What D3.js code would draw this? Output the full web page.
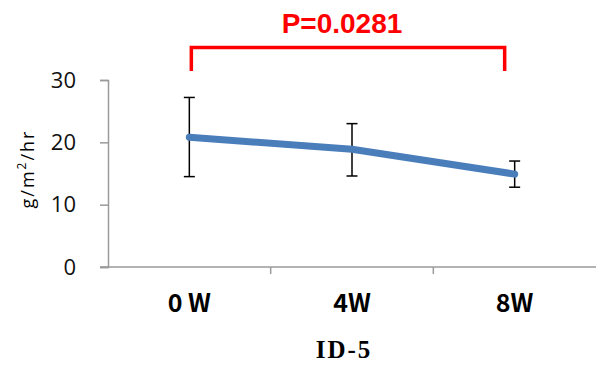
<!DOCTYPE html>
<html>
<head>
<meta charset="utf-8">
<script src="https://cdn.jsdelivr.net/npm/d3@7"></script>
<style>
  body { margin: 0; background: #fff; }
</style>
</head>
<body>
<script>
var categories = ["0W", "4W", "8W"];
var categoryLabels = ["0 W", "4W", "8W"];
var means = [20.8, 18.9, 14.9];
var errUpper = [27.2, 23.0, 17.0];
var errLower = [14.5, 14.6, 12.8];
var yTicks = [0, 10, 20, 30];
var pLabel = "P=0.0281";
var title = "ID-5";

var width = 596,
    height = 366;

var svg = d3.select("body")
    .append("svg")
    .attr("width", width)
    .attr("height", height);

var x = d3.scaleBand()
    .domain(categories)
    .range([108, 596]);

var y = d3.scaleLinear()
    .domain([0, 30])
    .range([267, 80]);

var axisColor = "#9a9a9a";

// y axis
var yAxis = svg.append("g")
    .attr("transform", "translate(108,0)")
    .call(d3.axisLeft(y).tickValues(yTicks).tickSize(8).tickPadding(24));
yAxis.select(".domain").attr("stroke", axisColor).attr("stroke-width", 1.5);
yAxis.selectAll(".tick line").attr("stroke", axisColor).attr("stroke-width", 1.5);
yAxis.selectAll(".tick text")
    .attr("fill", "#111")
    .style("font-family", "'Open Sans', sans-serif")
    .style("font-size", "22px");

// x axis line and ticks at band edges
svg.append("line")
    .attr("x1", 100).attr("x2", 596)
    .attr("y1", y(0)).attr("y2", y(0))
    .attr("stroke", axisColor).attr("stroke-width", 1.5);
svg.selectAll(".xtick")
    .data(categories.slice(1))
    .enter().append("line")
    .attr("x1", function (d) { return x(d); })
    .attr("x2", function (d) { return x(d); })
    .attr("y1", y(0))
    .attr("y2", y(0) + 7)
    .attr("stroke", axisColor).attr("stroke-width", 1.5);

// category labels
svg.selectAll(".xlabel")
    .data(categories)
    .enter().append("text")
    .attr("x", function (d) { return x(d) + x.bandwidth() / 2; })
    .attr("y", 312)
    .attr("text-anchor", "middle")
    .style("font-family", "'Noto Sans CJK JP', sans-serif")
    .style("font-weight", "700")
    .style("font-size", "25px")
    .text(function (d, i) { return categoryLabels[i]; });

// y axis label
svg.append("text")
    .attr("transform", "translate(34,169) rotate(-90)")
    .attr("text-anchor", "middle")
    .style("font-family", "'Open Sans', sans-serif")
    .style("font-size", "18px")
    .style("letter-spacing", "2px")
    .html("g/m<tspan baseline-shift='super' font-size='12px'>2</tspan>/hr");

// title
svg.append("text")
    .attr("x", 344)
    .attr("y", 358)
    .attr("text-anchor", "middle")
    .style("font-family", "'Liberation Serif', serif")
    .style("font-weight", "700")
    .style("font-size", "25px")
    .style("letter-spacing", "2px")
    .text(title);

// error bars
var cx = function (i) { return x(categories[i]) + x.bandwidth() / 2; };
var eb = svg.append("g").attr("stroke", "#000").attr("stroke-width", 1.5);
means.forEach(function (m, i) {
    eb.append("line")
        .attr("x1", cx(i)).attr("x2", cx(i))
        .attr("y1", y(errUpper[i])).attr("y2", y(errLower[i]));
    eb.append("line")
        .attr("x1", cx(i) - 5.5).attr("x2", cx(i) + 5.5)
        .attr("y1", y(errUpper[i])).attr("y2", y(errUpper[i]));
    eb.append("line")
        .attr("x1", cx(i) - 5.5).attr("x2", cx(i) + 5.5)
        .attr("y1", y(errLower[i])).attr("y2", y(errLower[i]));
});

// mean line
var line = d3.line()
    .x(function (d, i) { return cx(i); })
    .y(function (d) { return y(d); });
svg.append("path")
    .datum(means)
    .attr("d", line)
    .attr("fill", "none")
    .attr("stroke", "#4a7ebb")
    .attr("stroke-width", 7)
    .attr("stroke-linecap", "round")
    .attr("stroke-linejoin", "round");

// significance bracket
var bx1 = cx(0) + 2, bx2 = cx(2) - 10;
svg.append("path")
    .attr("d", "M" + bx1 + ",71 L" + bx1 + ",47.5 L" + bx2 + ",47.5 L" + bx2 + ",71")
    .attr("fill", "none")
    .attr("stroke", "#ff0000")
    .attr("stroke-width", 3.5);
svg.append("text")
    .attr("x", 342)
    .attr("y", 33)
    .attr("text-anchor", "middle")
    .attr("fill", "#ff0000")
    .style("font-family", "'Liberation Sans', Arial, sans-serif")
    .style("font-weight", "700")
    .style("font-size", "28px")
    .text(pLabel);
</script>
</body>
</html>
